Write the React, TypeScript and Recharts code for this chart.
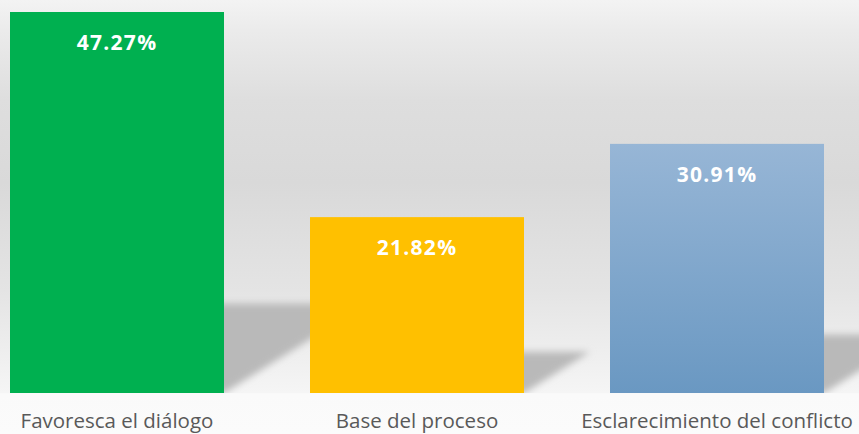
import React from 'react';
import { BarChart, Bar, XAxis, YAxis, Cell, LabelList } from 'recharts';

const categories = ['Favoresca el diálogo', 'Base del proceso', 'Esclarecimiento del conflicto'];
const values = [47.27, 21.82, 30.91];
const valueLabels = ['47.27%', '21.82%', '30.91%'];

const data = categories.map((c, i) => ({ name: c, value: values[i], label: valueLabels[i] }));

const BAR_TOP = ['#00B050', '#FFC000', '#97B6D6'];
const BAR_BOTTOM = ['#00B050', '#FFC000', '#6A98C2'];

const BarShape = (props: any) => {
  const { x, y, width, height, index } = props;
  const bottom = y + height;
  const sh = height * 0.235;
  const dx = sh * 1.6;
  const pts = `${x},${bottom} ${x + width},${bottom} ${x + width + dx},${bottom - sh} ${x + dx},${bottom - sh}`;
  return (
    <g>
      <defs>
        <linearGradient id={`barGrad${index}`} x1="0" y1="0" x2="0" y2="1">
          <stop offset="0%" stopColor={BAR_TOP[index]} />
          <stop offset="100%" stopColor={BAR_BOTTOM[index]} />
        </linearGradient>
        <filter id={`shBlur${index}`} x="-30%" y="-30%" width="160%" height="160%">
          <feGaussianBlur stdDeviation="3.5" />
        </filter>
        <clipPath id={`shClip${index}`}>
          <rect x={x} y={bottom - sh - 30} width={width + dx + 40} height={sh + 30} />
        </clipPath>
      </defs>
      <g clipPath={`url(#shClip${index})`}>
        <polygon points={pts} fill="#b9b9b9" filter={`url(#shBlur${index})`} />
      </g>
      <rect x={x} y={y} width={width} height={height} fill={`url(#barGrad${index})`} />
    </g>
  );
};

const CategoryTick = (props: any) => {
  const { x, y, payload } = props;
  return (
    <text
      x={x}
      y={y + 35}
      textAnchor="middle"
      fill="#595959"
      style={{ fontFamily: '"Open Sans", sans-serif', fontSize: 20.5 }}
    >
      {payload.value}
    </text>
  );
};

const ValueLabel = (props: any) => {
  const { x, y, width, value } = props;
  return (
    <text
      x={x + width / 2}
      y={y + 38}
      textAnchor="middle"
      fill="#ffffff"
      style={{ fontFamily: '"Open Sans", sans-serif', fontSize: 21, fontWeight: 700, letterSpacing: 1.3 }}
    >
      {value}
    </text>
  );
};

export default function App() {
  return (
    <div
      style={{
        position: 'absolute',
        left: 0,
        top: 0,
        width: 859,
        height: 434,
        overflow: 'hidden',
        background:
          'linear-gradient(to bottom, #f3f3f3 0%, #ebebeb 7%, #dedede 23%, #d9d9d9 42%, #e4e4e4 67%, #f5f5f5 90.5%, #fafafa 90.7%, #fbfbfb 100%)',
      }}
    >
      <div style={{ position: 'absolute', left: -33, top: 0 }}>
        <BarChart
          width={900}
          height={434}
          data={data}
          margin={{ top: 12, right: 0, left: 0, bottom: 0 }}
          barSize={214}
        >
          <XAxis
            dataKey="name"
            axisLine={false}
            tickLine={false}
            tickSize={0}
            tickMargin={0}
            height={41}
            interval={0}
            tick={<CategoryTick />}
          />
          <YAxis hide domain={[0, 47.27]} />
          <Bar dataKey="value" isAnimationActive={false} shape={<BarShape />}>
            {data.map((d, i) => (
              <Cell key={d.name} fill={BAR_TOP[i]} />
            ))}
            <LabelList dataKey="label" content={<ValueLabel />} />
          </Bar>
        </BarChart>
      </div>
    </div>
  );
}
